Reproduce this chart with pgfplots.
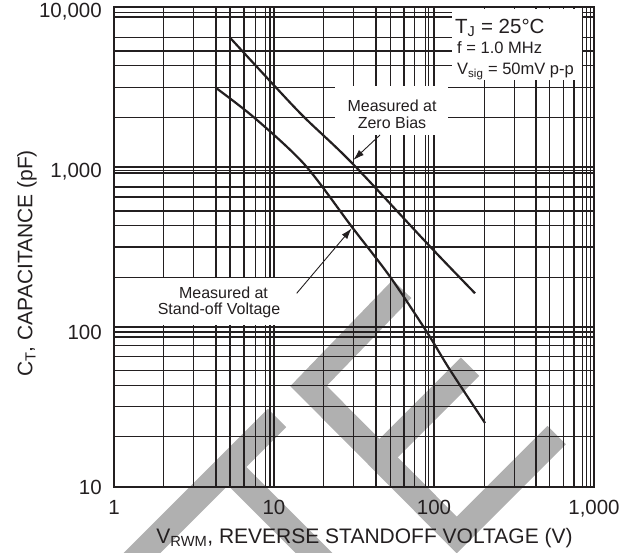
\documentclass[border=0pt]{standalone}
\usepackage{fontspec}
\setmainfont{Liberation Sans}
\usepackage{pgfplots}
\pgfplotsset{compat=1.18}
\usetikzlibrary{arrows.meta}
\definecolor{gridc}{RGB}{35,31,32}
\definecolor{wm}{RGB}{176,176,176}

\begin{document}
\begin{tikzpicture}
\useasboundingbox (0,0) rectangle (626pt,552pt);
\clip (0,0) rectangle (626pt,552pt);

% watermark behind everything (pixel coords, y down)
\begin{scope}[x=1pt,y=-1pt,yshift=552pt,wm,line width=26pt]
\draw (402,289) -- (308.5,386) -- (456.7,535) -- (556.7,435);
\draw (379.6,457.1) -- (470,366.7);
\draw (277,418) -- (100,595);
\draw (228,467) -- (330,569);
\end{scope}

\begin{axis}[
  at={(114pt,65pt)}, anchor=south west,
  scale only axis, width=480pt, height=480pt,
  xmode=log, ymode=log,
  xmin=1, xmax=1000, ymin=10, ymax=10000,
  xtick={1,10,100,1000}, xticklabels={1,10,100,{1,000}},
  ytick={100,1000,10000}, yticklabels={100,{1,000},{10,000}},
  extra y ticks={10}, extra y tick labels={10},
  extra y tick style={yticklabel style={yshift=5pt}},
  minor xtick={2.03,3.16,4.34,5.31,6.49,7.64,8.83,9.44,
               20.3,31.3,43.4,53.6,64.9,76.0,88.0,91.8,
               208,318,434,525,643,750,850,900,956},
  minor ytick={20.7,31.9,43.2,53.6,65.6,76.8,86.6,93,
               205,316,430,531,649,750,917,954,
               2040,3140,4300,5309,6435,8660,9264},
  grid=both,
  major grid style={gridc, line width=1.1pt},
  minor grid style={gridc, line width=1.1pt},
  axis line style={gridc, line width=1.1pt},
  major tick length=0pt, minor tick length=0pt,
  ticklabel style={font=\fontsize{20.5}{24}\selectfont, text=gridc},
  xticklabel style={anchor=north, inner sep=0pt, yshift=-13pt},
  yticklabel style={anchor=east, inner sep=0pt, xshift=-12pt, yshift=-5pt},
]
% measured at zero bias
\addplot[gridc, line width=2.2pt, smooth] coordinates {
  (5.31,6429) (10.15,3186) (15.62,2024) (30.73,1059) (94.4,318.6) (180.4,162.5)
};
% measured at stand-off voltage
\addplot[gridc, line width=2.2pt, smooth] coordinates {
  (4.32,3131) (7.61,2016) (15.62,1029) (30.6,423.6) (53.1,206.3)
  (90.0,93.4) (125.9,53.9) (208.4,25.1)
};
\end{axis}

% boxes, notes and axis titles (pixel coords, y down)
\begin{scope}[x=1pt,y=-1pt,yshift=552pt,text=gridc,inner sep=0pt]
\fill[white] (452,9) rectangle (582,80);
\fill[white] (335,86) rectangle (448,135);
\fill[white] (115.7,278.5) rectangle (318,325);

\node[anchor=base west,font=\fontsize{20.5}{24}\selectfont] at (455,33.5) {T\textsubscript{J} = 25°C};
\node[anchor=base west,font=\fontsize{16.5}{19}\selectfont] at (457,53.3) {f = 1.0 MHz};
\node[anchor=base west,font=\fontsize{16.5}{19}\selectfont] at (457,75) {V\textsubscript{sig} = 50mV p-p};

\node[anchor=base,font=\fontsize{16}{19}\selectfont] at (392,111.7) {Measured at};
\node[anchor=base,font=\fontsize{16}{19}\selectfont] at (392,128.3) {Zero Bias};
\draw[gridc,line width=0.9pt,-{Latex[length=11pt,width=7pt]}] (380,135) -- (353.3,160);

\node[anchor=base,font=\fontsize{16}{19}\selectfont] at (223.5,298.3) {Measured at};
\node[anchor=base,font=\fontsize{16}{19}\selectfont] at (219,315) {Stand-off Voltage};
\draw[gridc,line width=0.9pt,-{Latex[length=11pt,width=7pt]}] (296.7,293.3) -- (351.7,228.3);

\node[rotate=90,font=\fontsize{21}{25}\selectfont] at (27,263.5) {C\textsubscript{T}, CAPACITANCE (pF)};
\node[anchor=base,font=\fontsize{21}{25}\selectfont] at (364.5,543) {V\textsubscript{RWM}, REVERSE STANDOFF VOLTAGE (V)};
\end{scope}
\end{tikzpicture}
\end{document}
